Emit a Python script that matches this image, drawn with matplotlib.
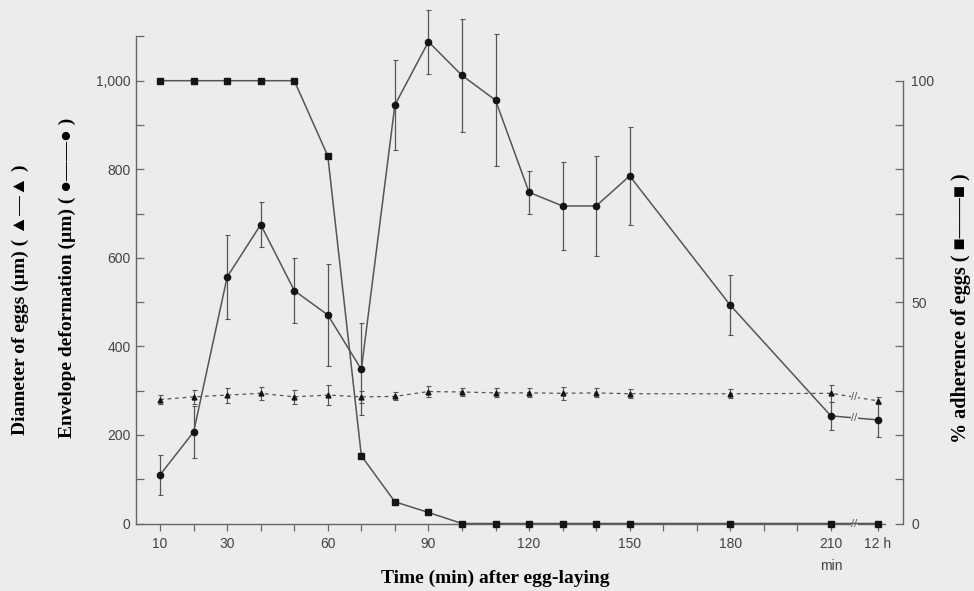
import matplotlib.pyplot as plt
from matplotlib.ticker import FixedLocator, FuncFormatter
import numpy as np

# ---- data ----
# time points in min; the last one is the 12 h point, drawn after a break
times = [10, 20, 30, 40, 50, 60, 70, 80, 90, 100, 110, 120, 130, 140, 150, 180, 210, 224]
time_labels = ["10", "30", "60", "90", "120", "150", "180", "210", "12 h"]
time_label_pos = [10, 30, 60, 90, 120, 150, 180, 210, 224]
time_minor = [20, 40, 50, 70, 80, 100, 110, 130, 140, 160, 170, 190, 200]

# envelope deformation (um), circles
deform = [110, 207, 557, 675, 526, 471, 348, 945, 1088, 1012, 956, 748, 717, 717, 785, 493, 243, 234]
deform_err = [45, 58, 95, 50, 74, 115, 104, 102, 72, 128, 149, 49, 100, 113, 110, 68, 32, 38]

# diameter of eggs (um), triangles
diam = [280, 286, 290, 294, 286, 290, 286, 287, 298, 297, 295, 295, 294, 295, 293, 293, 294, 277]
diam_err = [11, 15, 17, 14, 15, 22, 14, 9, 13, 9, 10, 10, 14, 10, 10, 10, 19, 8]

# % adherence of eggs, squares (right axis)
adher = [100, 100, 100, 100, 100, 83, 15.3, 4.9, 2.5, 0, 0, 0, 0, 0, 0, 0, 0, 0]

BG = "#ececec"
LINE = "#555555"
MARK = "#151515"
SERIF = ["Liberation Serif", "DejaVu Sans"]

plt.rcParams["font.family"] = ["Liberation Sans", "DejaVu Sans"]

fig = plt.figure(figsize=(9.74, 5.91), dpi=100, facecolor=BG)
ax = fig.add_axes([0.1396, 0.1142, 0.7875, 0.8242], facecolor=BG)
ax2 = ax.twinx()

t = np.array(times)

# diameter: dashed line with small triangles
ax.errorbar(t, diam, yerr=diam_err, fmt="none", ecolor=LINE, elinewidth=0.8,
            capsize=1.8, capthick=0.8, clip_on=False, zorder=3)
ax.plot(t, diam, linestyle=(0, (3, 3)), color=LINE, lw=0.9, marker="^",
        ms=3.5, mfc=MARK, mec=MARK, clip_on=False, zorder=4)

# envelope deformation: solid line with circles
ax.errorbar(t, deform, yerr=deform_err, fmt="none", ecolor=LINE, elinewidth=0.9,
            capsize=1.8, capthick=0.8, clip_on=False, zorder=3)
ax.plot(t, deform, "-", color=LINE, lw=1.1, marker="o", ms=4.5,
        mfc=MARK, mec=MARK, clip_on=False, zorder=5)

# adherence: solid line with squares on the right axis
ax2.plot(t, adher, "-", color=LINE, lw=1.1, marker="s", ms=3.8,
         mfc=MARK, mec=MARK, clip_on=False, zorder=5)

# axis breaks between 210 min and 12 h
xb = (times[-2] + times[-1]) / 2
for yb in [(deform[-2] + deform[-1]) / 2, (diam[-2] + diam[-1]) / 2, 0]:
    ax.text(xb, yb, "//", ha="center", va="center", fontsize=8, color=LINE,
            bbox=dict(boxstyle="square,pad=0.05", fc=BG, ec="none"), zorder=6)

# ---- axes ----
ax.set_xlim(2.8, 231.5)
ax.set_ylim(0, 1100)
ax2.set_ylim(0, 110)

for s in ["top", "right"]:
    ax.spines[s].set_visible(False)
for s in ["top", "left", "bottom"]:
    ax2.spines[s].set_visible(False)
for sp in [ax.spines["left"], ax.spines["bottom"], ax2.spines["right"]]:
    sp.set_color("#666666")
    sp.set_linewidth(1.0)
ax.spines["left"].set_bounds(0, 1100)
ax.spines["bottom"].set_bounds(2.8, 226)
ax2.spines["right"].set_bounds(0, 100)

ax.xaxis.set_major_locator(FixedLocator(time_label_pos))
ax.set_xticklabels(time_labels)
ax.xaxis.set_minor_locator(FixedLocator(time_minor))
ax.tick_params(axis="x", which="both", direction="out", length=5, width=0.9,
               color="#666666", labelsize=10, labelcolor="#444444", pad=5)

ax.yaxis.set_major_locator(FixedLocator(range(0, 1001, 200)))
ax.yaxis.set_minor_locator(FixedLocator(range(100, 1101, 200)))
ax.yaxis.set_major_formatter(FuncFormatter(lambda v, p: f"{int(v):,}"))
ax.tick_params(axis="y", which="both", direction="in", length=6, width=0.9,
               color="#666666", labelsize=10, labelcolor="#444444", pad=4)

ax2.yaxis.set_major_locator(FixedLocator([0, 50, 100]))
ax2.yaxis.set_minor_locator(FixedLocator([10, 20, 30, 40, 60, 70, 80, 90]))
ax2.tick_params(axis="y", which="both", direction="in", length=6, width=0.9,
                color="#666666", labelsize=10, labelcolor="#444444", pad=6)

# "min" under the 210 label
ax.text(210, -0.088, "min", transform=ax.get_xaxis_transform(), ha="center",
        va="center", fontsize=10, color="#444444")

# ---- labels ----
fig.text(0.509, 0.022, "Time (min) after egg-laying", ha="center", va="center",
         fontsize=14, fontweight="bold", family=SERIF)
fig.text(0.021, 0.492, "Diameter of eggs (\u00b5m) ( \u25b2\u2014\u25b2 )",
         rotation=90, ha="center", va="center", fontsize=14, fontweight="bold",
         family=SERIF)
fig.text(0.069, 0.53, "Envelope deformation (\u00b5m) ( \u25cf\u2014\u2014\u25cf )",
         rotation=90, ha="center", va="center", fontsize=14, fontweight="bold",
         family=SERIF)
fig.text(0.987, 0.478, "% adherence of eggs ( \u25a0\u2014\u2014\u25a0 )",
         rotation=90, ha="center", va="center", fontsize=14.5, fontweight="bold",
         family=SERIF)

fig.savefig("out.png", dpi=100, facecolor=BG)
